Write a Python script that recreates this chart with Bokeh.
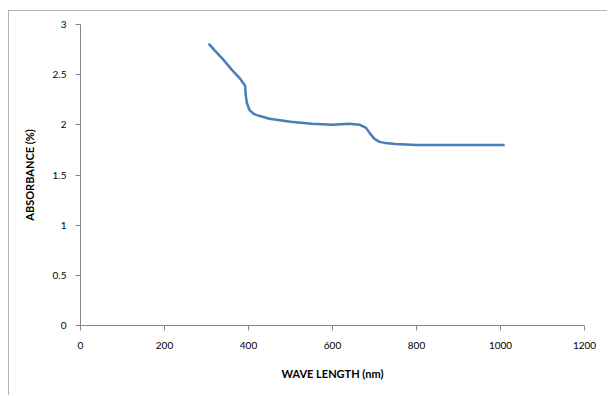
from bokeh.plotting import figure
from bokeh.models import Range1d, FixedTicker
from bokeh.embed import file_html
from bokeh.resources import INLINE

wavelength = [305, 320, 340, 360, 380, 392, 393, 396, 402, 412, 425, 450, 500, 550,
              600, 640, 665, 680, 690, 700, 712, 725, 750, 800, 900, 1010]
absorbance = [2.81, 2.74, 2.65, 2.55, 2.46, 2.39, 2.31, 2.22, 2.15, 2.11, 2.09, 2.06, 2.03, 2.01,
              2.00, 2.01, 2.00, 1.97, 1.91, 1.86, 1.83, 1.82, 1.81, 1.80, 1.80, 1.80]
x_ticks = [0, 200, 400, 600, 800, 1000, 1200]
y_ticks = [0, 0.5, 1, 1.5, 2, 2.5, 3]

p = figure(width=599, height=385, output_backend="svg", toolbar_location=None,
           x_range=Range1d(0, 1200), y_range=Range1d(0, 3),
           min_border_left=71, min_border_right=24, min_border_top=13, min_border_bottom=71)
p.styles = {"margin-left": "8px", "margin-top": "10px",
            "border-left": "1px solid #b4b4b4", "border-top": "1px solid #b4b4b4"}

p.line(wavelength, absorbance, line_color="#4a7ebb", line_width=2.5)

p.grid.visible = False
p.outline_line_color = None

FONT = "Lato"
for ax in (p.xaxis[0], p.yaxis[0]):
    ax.axis_line_color = "#868686"
    ax.major_tick_line_color = "#868686"
    ax.minor_tick_line_color = None
    ax.major_tick_out = 5
    ax.major_tick_in = 0
    ax.major_label_text_font = FONT
    ax.major_label_text_font_size = "10px"
    ax.major_label_text_color = "#000000"
    ax.axis_label_text_font = FONT
    ax.axis_label_text_font_size = "11px"
    ax.axis_label_text_font_style = "bold"
    ax.axis_label_text_color = "#000000"

p.xaxis[0].ticker = FixedTicker(ticks=x_ticks)
p.yaxis[0].ticker = FixedTicker(ticks=y_ticks)
p.xaxis[0].axis_label = "WAVE LENGTH (nm)"
p.yaxis[0].axis_label = "ABSORBANCE (%)"
p.xaxis[0].major_label_standoff = 11
p.yaxis[0].major_label_standoff = 9
p.xaxis[0].axis_label_standoff = 15
p.yaxis[0].axis_label_standoff = 14

open("out.html", "w").write(file_html(p, INLINE))
